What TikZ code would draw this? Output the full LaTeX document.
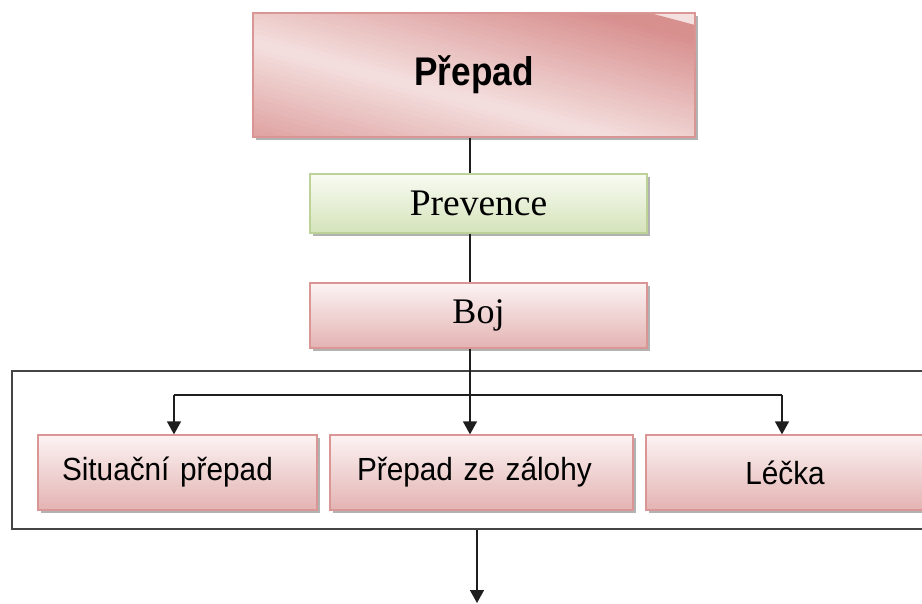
\documentclass[tikz,border=0pt]{standalone}
\usepackage{fontspec}
\setmainfont{Liberation Serif}
\newfontfamily\labelsans[FakeStretch=0.93]{Liberation Sans}
\newfontfamily\titlesans[FakeStretch=0.88]{Liberation Sans}
\usetikzlibrary{shadows,arrows.meta,calc}
\definecolor{pinkB}{HTML}{D99694}
\definecolor{pinkL}{HTML}{F4E0DF}
\definecolor{pinkD}{HTML}{D8908F}
\definecolor{pinkTop}{HTML}{FCF3F3}
\definecolor{pinkBot}{HTML}{E3B3B2}
\definecolor{greenB}{HTML}{BCD296}
\definecolor{greenTop}{HTML}{F8FBF3}
\definecolor{greenBot}{HTML}{D5E3BA}
\definecolor{lineC}{HTML}{1E1E1E}
\definecolor{frameC}{HTML}{454545}
\tikzset{
  boxbase/.style={line width=1.3pt, inner sep=0pt,
    drop shadow={shadow xshift=3pt, shadow yshift=-3pt, fill=black!55, opacity=0.55}},
  pinkbox/.style={boxbase, draw=pinkB, top color=pinkTop, bottom color=pinkBot},
  greenbox/.style={boxbase, draw=greenB, top color=greenTop, bottom color=greenBot},
  titlebox/.style={boxbase, draw=pinkB, fill=pinkL,
    path picture={
      \begin{scope}[shift={(path picture bounding box.center)}]
      \foreach \d in {-135,-130,...,130} {
        \pgfmathsetmacro\mixv{min(100,abs(\d+2.5)/121*100)}
        \fill[pinkD!\mixv!pinkL] (-600pt,\d pt+160pt) -- (600pt,\d pt-160pt) -- (600pt,\d pt-154.4pt) -- (-600pt,\d pt+165.6pt) -- cycle;
      }
      \end{scope}
    }},
  serifbig/.style={font=\fontsize{36}{40}\selectfont},
  sanslabel/.style={font=\labelsans\fontsize{32}{36}\selectfont},
  groupframe/.style={draw=frameC, line width=1.8pt},
  conn/.style={draw=lineC, line width=1.6pt},
  arrowc/.style={conn, -{Triangle[width=14pt,length=13pt]}}
}
\begin{document}
\begin{tikzpicture}[x=1pt,y=-1pt]
\useasboundingbox (0,0) rectangle (922,604);
% group frame
\node[groupframe, minimum width=918pt, minimum height=158pt, inner sep=0pt] (grp) at (471,450) {};
% boxes
\node[titlebox, minimum width=442pt, minimum height=124pt] (top) at (474,75)
  {\titlesans\bfseries\fontsize{40}{44}\selectfont Přepad};
\node[greenbox, font=\fontsize{37.5}{40}\selectfont, minimum width=337pt, minimum height=59pt] (prev) at (478.5,203.5) {Prevence};
\node[pinkbox, serifbig, minimum width=337pt, minimum height=65pt] (boj) at (478.5,315.5) {Boj};
\node[pinkbox, sanslabel, inner xsep=24pt, text width=231pt, align=left, minimum height=75pt] (box1) at (177.5,472.5) {Situační přepad};
\node[pinkbox, sanslabel, inner xsep=27pt, text width=249pt, align=left, minimum height=75pt] (box2) at (481.5,472.5) {Přepad ze zálohy};
\node[pinkbox, sanslabel, minimum width=278pt, minimum height=75pt] (box3) at (785,472.5) {Léčka};
% helper coordinates
\coordinate (spine) at (470,0);
\coordinate (branch) at (0,395);
\coordinate (out) at (477,603);
% connectors
\draw[conn] (top.south -| spine) -- (prev.north -| spine);
\draw[conn] (prev.south -| spine) -- (boj.north -| spine);
\draw[conn] ([xshift=-3.5pt]box1.north |- branch) -- ([xshift=-3pt]box3.north |- branch);
\draw[arrowc] (boj.south -| spine) -- (box2.north -| spine);
\draw[arrowc] ([xshift=-3.5pt]box1.north |- branch) -- ([xshift=-3.5pt]box1.north);
\draw[arrowc] ([xshift=-3pt]box3.north |- branch) -- ([xshift=-3pt]box3.north);
\draw[arrowc] (grp.south -| out) -- (out);
\end{tikzpicture}
\end{document}
